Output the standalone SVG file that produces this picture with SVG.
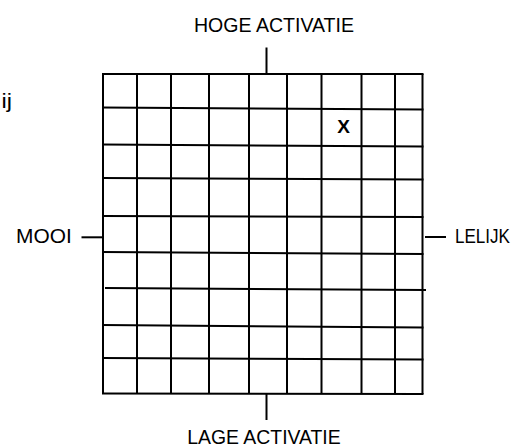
<svg xmlns="http://www.w3.org/2000/svg" width="529" height="446" viewBox="0 0 529 446">
<style>
.ln{stroke:#000;stroke-width:2;fill:none;stroke-linecap:butt}
.t{font-family:"Liberation Sans",Arial,sans-serif;font-size:21px;fill:#000}
.b{font-family:"Liberation Sans",Arial,sans-serif;font-size:19px;font-weight:bold;fill:#000}
</style>
<rect width="529" height="446" fill="#fff"/>
<g id="grid" class="ln">
<line x1="103" y1="74" x2="103" y2="394"/>
<line x1="137" y1="74" x2="137" y2="394"/>
<line x1="171" y1="74" x2="171" y2="394"/>
<line x1="209" y1="74" x2="209" y2="394"/>
<line x1="249" y1="74" x2="249" y2="394"/>
<line x1="287" y1="74" x2="287" y2="394"/>
<line x1="321.5" y1="74" x2="321.5" y2="394"/>
<line x1="361.5" y1="74" x2="361.5" y2="394"/>
<line x1="395" y1="74" x2="395" y2="394"/>
<line x1="422.5" y1="74" x2="422.5" y2="394"/>
<line x1="102" y1="74" x2="423.5" y2="74"/>
<line x1="102" y1="107.5" x2="423.5" y2="109.5"/>
<line x1="102" y1="144.5" x2="423.5" y2="146.5"/>
<line x1="102" y1="178" x2="423.5" y2="179.5"/>
<line x1="102" y1="216" x2="423.5" y2="217"/>
<line x1="102" y1="252" x2="423.5" y2="254"/>
<line x1="105" y1="288" x2="426" y2="290"/>
<line x1="102" y1="325" x2="423.5" y2="327.5"/>
<line x1="102" y1="358" x2="423.5" y2="359.5"/>
<line x1="102" y1="393.5" x2="423.5" y2="394"/>
</g>
<g id="connectors" class="ln">
<line x1="266.5" y1="47.5" x2="266.5" y2="74"/>
<line x1="266.5" y1="394" x2="266.5" y2="420"/>
<line x1="81.5" y1="237.3" x2="103" y2="237.3"/>
<line x1="425" y1="237" x2="446" y2="237"/>
</g>
<g id="hoge"><text class="t" x="194" y="32.3" textLength="160" lengthAdjust="spacingAndGlyphs">HOGE ACTIVATIE</text></g>
<g id="lage"><text class="t" x="187.3" y="443.5" textLength="153.4" lengthAdjust="spacingAndGlyphs">LAGE ACTIVATIE</text></g>
<g id="mooi"><text class="t" x="16" y="243.3" textLength="55.7" lengthAdjust="spacingAndGlyphs">MOOI</text></g>
<g id="lelijk"><text class="t" x="455" y="243.3" textLength="55" lengthAdjust="spacingAndGlyphs">LELIJK</text></g>
<g id="ij"><text class="t" x="1.5" y="108.3" textLength="10.5" lengthAdjust="spacingAndGlyphs">ij</text></g>
<g id="x"><text class="b" x="343.7" y="132.7" text-anchor="middle">X</text></g>
</svg>
